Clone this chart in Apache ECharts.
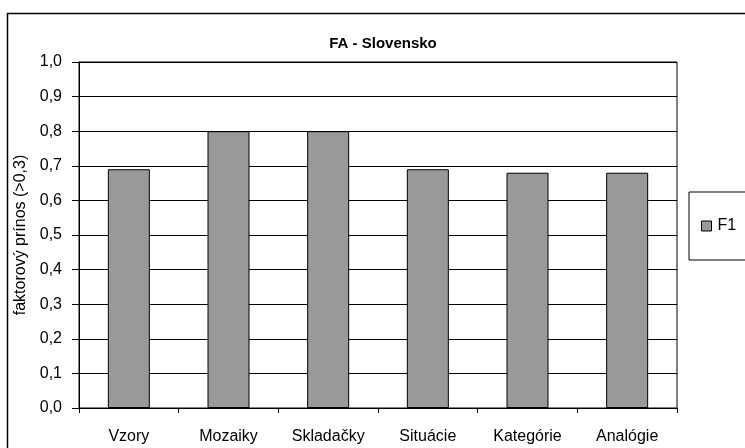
<!DOCTYPE html>
<html>
<head>
<meta charset="utf-8">
<script src="https://cdn.jsdelivr.net/npm/echarts@6/dist/echarts.min.js"></script>
<style>
  html, body { margin: 0; padding: 0; background: #fff; }
  #chart { width: 745px; height: 448px; }
</style>
</head>
<body>
<div id="chart"></div>
<script>
// Factor loadings per subtest
const categories = ['Vzory', 'Mozaiky', 'Skladačky', 'Situácie', 'Kategórie', 'Analógie'];
const f1Values = [0.69, 0.80, 0.80, 0.69, 0.68, 0.68];
const seriesName = 'F1';
const chartTitle = 'FA - Slovensko';
const yAxisTitle = 'faktorový prínos (>0,3)';

const FONT = '"Liberation Sans", Arial, sans-serif';

const chart = echarts.init(document.getElementById('chart'), null, { renderer: 'canvas' });

chart.setOption({
  backgroundColor: '#ffffff',
  animation: false,
  textStyle: { fontFamily: FONT, color: '#000' },
  title: {
    text: chartTitle,
    left: 378,
    textAlign: 'center',
    top: 31,
    textStyle: { fontFamily: FONT, fontSize: 15, fontWeight: 'bold', color: '#000' }
  },
  graphic: [{
    type: 'rect',
    shape: { x: 7.5, y: 13.5, width: 800, height: 500 },
    style: { fill: 'none', stroke: '#000', lineWidth: 1.5 },
    silent: true,
    z: -1
  }],
  legend: {
    left: 689,
    top: 192,
    orient: 'vertical',
    padding: [26, 10, 26, 12],
    itemWidth: 10,
    itemHeight: 10,
    itemGap: 0,
    borderColor: '#000',
    borderWidth: 1,
    textStyle: { fontFamily: FONT, fontSize: 16, color: '#000', padding: [0, 0, 0, 1] },
    data: [{ name: seriesName, icon: 'rect', itemStyle: { color: '#999999', borderColor: '#000', borderWidth: 1 } }]
  },
  grid: {
    left: 79,
    top: 62,
    width: 598,
    height: 346,
    show: true,
    borderColor: '#000',
    borderWidth: 1,
    containLabel: false
  },
  xAxis: {
    type: 'category',
    data: categories,
    axisLine: { lineStyle: { color: '#000', width: 1 } },
    axisTick: { show: true, length: 5, alignWithLabel: false, lineStyle: { color: '#000' } },
    axisLabel: { margin: 21, fontFamily: FONT, fontSize: 16, color: '#000' },
    splitLine: { show: false }
  },
  yAxis: {
    type: 'value',
    min: 0,
    max: 1,
    interval: 0.1,
    name: yAxisTitle,
    nameLocation: 'middle',
    nameGap: 50,
    nameTextStyle: { fontFamily: FONT, fontSize: 16, color: '#000' },
    axisLine: { show: true, lineStyle: { color: '#000', width: 1 } },
    axisTick: { show: true, length: 7, lineStyle: { color: '#000' } },
    axisLabel: {
      margin: 17,
      fontFamily: FONT,
      fontSize: 16,
      color: '#000',
      formatter: v => v.toFixed(1).replace('.', ',')
    },
    splitLine: { show: true, lineStyle: { color: '#000', width: 1 } }
  },
  series: [{
    name: seriesName,
    type: 'bar',
    data: f1Values,
    barWidth: 42,
    itemStyle: { color: '#999999', borderColor: '#000', borderWidth: 1 }
  }]
});
</script>
</body>
</html>
